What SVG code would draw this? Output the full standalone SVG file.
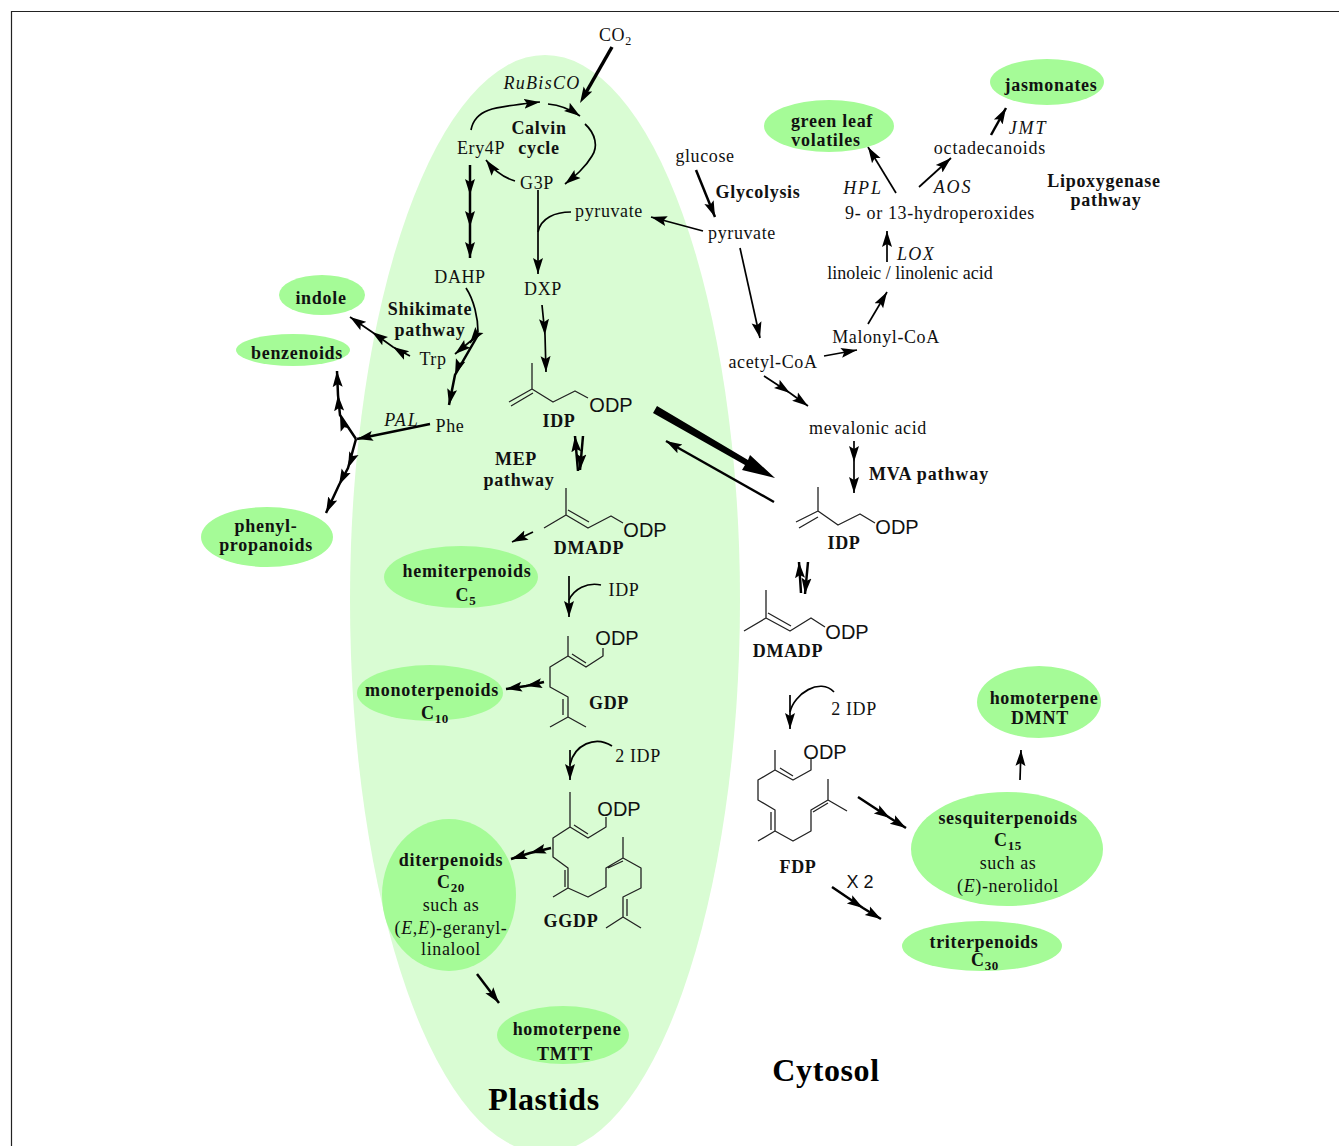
<svg xmlns="http://www.w3.org/2000/svg" width="1339" height="1146" viewBox="0 0 1339 1146">
<style>
text{font-family:"Liberation Serif","Times New Roman",serif;font-size:18px;fill:#111;text-anchor:middle;letter-spacing:.6px}
.b{font-weight:bold;letter-spacing:.7px}
.i{font-style:italic;letter-spacing:1.9px}
.s{font-family:"Liberation Sans",Arial,sans-serif;font-size:20px;letter-spacing:0}
.big{font-weight:bold;font-size:32px;letter-spacing:.6px;fill:#000}
.e{fill:#a5fb97}
.m{fill:none;stroke:#222;stroke-width:1.3;stroke-linejoin:round}
.c{fill:none;stroke:#000;stroke-width:1.7}
.h{fill:none;stroke:#000;stroke-width:2.5}
.ah{marker-end:url(#a)}
.am{marker-mid:url(#a);marker-end:url(#a)}
</style>
<defs>
<marker id="a" markerUnits="userSpaceOnUse" markerWidth="17" markerHeight="12" refX="16" refY="6" orient="auto" viewBox="0 0 17 12"><path d="M0,1 L16,6 L0,11 L3,6 Z" fill="#000"/></marker>
<marker id="a2" markerUnits="userSpaceOnUse" markerWidth="17" markerHeight="12" refX="8" refY="6" orient="auto" viewBox="0 0 17 12"><path d="M0,1 L16,6 L0,11 L3,6 Z" fill="#000"/></marker>
</defs>
<rect width="1339" height="1146" fill="#fff"/>
<path d="M1339,11.500H11.500V1146" fill="none" stroke="#222" stroke-width="1.2"/>
<path id="plastid" d="M350,600A195,545 0 0 1 740,600A195,553 0 0 1 350,600Z" fill="#d9fcd3"/>

<g id="connectors">
<path class="h" style="stroke-width:3.500" d="M612,47L584,96" marker-end="url(#a2)"/>
<path class="c ah" d="M471,130C475,108 495,107 540,102"/>
<path class="c ah" d="M548,104C560,105 570,109 580,116"/>
<path class="c ah" d="M585,124C596,134 598,147 592,156C585,168 575,176 565,184"/>
<path class="c ah" d="M515,181C505,178 495,172 486,160"/>
<path class="h am" d="M470,165V195V227V258"/>
<path class="c ah" d="M538,190V274"/>
<path class="c" d="M538,232C541,218 555,212 571,212"/>
<path class="c am" d="M542,305L545,335L546,372"/>
<path class="c" d="M466,288C474,300 478,318 478,332"/>
<path class="c ah" d="M478,332L470,343"/>
<path class="c ah" d="M478,335L455,354"/>
<path class="h am" d="M478,335L455,375L449,405"/>
<path class="c am" d="M410,356L393,347L372,332L350,317"/>
<path class="h ah" d="M430,424L357,439"/>
<path class="h am" d="M356,439L340,415L338,395L337,371"/>
<path class="h am" d="M356,439L348,468L339,485L326,513"/>
<path class="h ah" d="M578,471L575,436"/>
<path class="h ah" d="M583,436L580,470"/>
<path class="c ah" d="M533,532L512,542"/>
<path class="c ah" d="M569,576V617"/>
<path class="c" d="M569,600C574,589 587,582 601,585"/>
<path class="h am" d="M544,682L526,686L506,689"/>
<path class="c ah" d="M570,750V780"/>
<path class="c" d="M570,765C574,745 595,735 612,746"/>
<path class="h am" d="M551,848L530,853L511,859"/>
<path class="h ah" d="M477,974L499,1003"/>
<path d="M657,406L748,460L750,455L775,478L742,470L745,465L653,413Z" fill="#000"/>
<path class="c ah" style="stroke-width:2.400" d="M774,502L666,441"/>
<path class="h ah" d="M696,170L715,217"/>
<path class="c ah" d="M703,231L651,217"/>
<path class="c ah" d="M740,248L760,338"/>
<path class="c ah" d="M824,356L857,350"/>
<path class="c am" d="M764,376L790,393L808,406"/>
<path class="c ah" d="M868,324L887,292"/>
<path class="c ah" d="M887,262V231"/>
<path class="c ah" d="M896,193L868,147"/>
<path class="c ah" d="M919,187L951,158"/>
<path class="h ah" d="M991,135L1006,108"/>
<path class="c am" d="M854,441V462V493"/>
<path class="h ah" d="M801,593L799,562"/>
<path class="h ah" d="M808,562L805,594"/>
<path class="c ah" d="M790,695V729"/>
<path class="c" d="M790,712C794,694 820,677 834,692"/>
<path class="h am" d="M858,797L890,818L906,828"/>
<path class="h am" d="M832,887L863,908L881,919"/>
<path class="c ah" d="M1020,780L1021,750"/>
</g>

<g id="calvin"><text class="b" x="539" y="134">Calvin</text><text class="b" x="539" y="154">cycle</text></g>
<g id="co2"><text x="599" y="41" style="text-anchor:start">CO<tspan dy="4" style="font-size:12px">2</tspan></text></g>
<g id="rubisco"><text class="i" x="542" y="89" style="letter-spacing:1.3px">RuBisCO</text></g>
<g id="ery4p"><text x="481" y="154">Ery4P</text></g>
<g id="g3p"><text x="537" y="189">G3P</text></g>
<g id="pyr1"><text x="609" y="217">pyruvate</text></g>
<g id="dahp"><text x="460" y="283">DAHP</text></g>
<g id="dxp"><text x="543" y="295">DXP</text></g>
<g id="shikimate"><text class="b" x="430" y="315">Shikimate</text><text class="b" x="430" y="336">pathway</text></g>
<g id="trp"><text x="433" y="365">Trp</text></g>
<g id="phe"><text x="450" y="432">Phe</text></g>
<g id="pal"><text class="i" x="402" y="426">PAL</text></g>

<g id="indole"><ellipse class="e" cx="322" cy="295" rx="43" ry="20"/><text class="b" x="321" y="304">indole</text></g>
<g id="benzenoids"><ellipse class="e" cx="293" cy="350" rx="57" ry="16"/><text class="b" x="297" y="359">benzenoids</text></g>
<g id="phenylpropanoids"><ellipse class="e" cx="267" cy="537" rx="66" ry="30"/><text class="b" x="266" y="532">phenyl-</text><text class="b" x="266" y="551">propanoids</text></g>

<g id="idp1"><path class="m" d="M509,402L532,389L553,402L575,391L588,398M511,406L533,393M532,389V363"/><text class="s" x="611" y="412">ODP</text><text class="b" x="559" y="427">IDP</text></g>
<g id="mep"><text class="b" x="516" y="465">MEP</text><text class="b" x="519" y="486">pathway</text></g>
<g id="dmadp1"><path class="m" d="M544,528L566,515L588,528L611,516L623,523M568,510L589,522M566,515V488"/><text class="s" x="645" y="537">ODP</text><text class="b" x="589" y="554">DMADP</text></g>
<g id="hemi"><ellipse class="e" cx="461" cy="577" rx="77" ry="31"/><text class="b" x="467" y="577">hemiterpenoids</text><text class="b" x="466" y="601">C<tspan dy="4" style="font-size:13px">5</tspan></text></g>
<g id="idplabel"><text x="624" y="596">IDP</text></g>
<g id="mono"><ellipse class="e" cx="430" cy="693" rx="73" ry="28"/><text class="b" x="432" y="696">monoterpenoids</text><text class="b" x="435" y="719">C<tspan dy="4" style="font-size:13px">10</tspan></text></g>
<g id="gdp"><path class="m" d="M568,636V656L586,667L603,656V648M572,654L586,663M568,656L550,667V687L568,697V717M563,699V715M568,717L550,727M568,717L586,727"/><text class="s" x="617" y="645">ODP</text><text class="b" x="609" y="709">GDP</text></g>
<g id="twoidp"><text x="638" y="762">2 IDP</text></g>
<g id="ggdp"><path class="m" d="M570,792V827L588,838L606,827V817M574,825L588,834M570,827L553,838V857L568,868V888L553,897M565,870V887M568,888L588,897L606,887V868L623,858L641,868V888L623,897V917M627,899V916M623,917L606,928M623,917L641,928M608,868L623,861M623,858V837"/><text class="s" x="619" y="816">ODP</text><text class="b" x="571" y="927">GGDP</text></g>
<g id="di"><ellipse class="e" cx="449" cy="895" rx="67" ry="76"/><text class="b" x="451" y="866">diterpenoids</text><text class="b" x="451" y="888">C<tspan dy="4" style="font-size:13px">20</tspan></text><text x="451" y="911">such as</text><text x="451" y="934">(<tspan font-style="italic">E</tspan>,<tspan font-style="italic">E</tspan>)-geranyl-</text><text x="451" y="955">linalool</text></g>
<g id="tmtt"><ellipse class="e" cx="563" cy="1035" rx="66" ry="29"/><text class="b" x="567" y="1035">homoterpene</text><text class="b" x="565" y="1060">TMTT</text></g>
<g id="plastids"><text class="big" x="544" y="1110">Plastids</text></g>

<g id="glucose"><text x="705" y="162">glucose</text></g>
<g id="glycolysis"><text class="b" x="758" y="198">Glycolysis</text></g>
<g id="pyr2"><text x="742" y="239">pyruvate</text></g>
<g id="acetyl"><text x="773" y="368">acetyl-CoA</text></g>
<g id="malonyl"><text x="886" y="343">Malonyl-CoA</text></g>
<g id="linoleic"><text x="910" y="279" style="letter-spacing:0">linoleic / linolenic acid</text></g>
<g id="lox"><text class="i" x="916" y="260" style="letter-spacing:1.3px">LOX</text></g>
<g id="hydro"><text x="940" y="219" style="letter-spacing:.65px">9- or 13-hydroperoxides</text></g>
<g id="hpl"><text class="i" x="863" y="194">HPL</text></g>
<g id="aos"><text class="i" x="953" y="193">AOS</text></g>
<g id="octa"><text x="990" y="154" style="letter-spacing:.8px">octadecanoids</text></g>
<g id="jmt"><text class="i" x="1028" y="134">JMT</text></g>
<g id="glv"><ellipse class="e" cx="829" cy="126" rx="65" ry="26"/><text class="b" x="832" y="127">green leaf</text><text class="b" x="826" y="146">volatiles</text></g>
<g id="jas"><ellipse class="e" cx="1047" cy="82" rx="57" ry="23"/><text class="b" x="1051" y="91">jasmonates</text></g>
<g id="lox-path"><text class="b" x="1104" y="187">Lipoxygenase</text><text class="b" x="1106" y="206">pathway</text></g>
<g id="meva"><text x="868" y="434">mevalonic acid</text></g>
<g id="mva"><text class="b" x="929" y="480" style="letter-spacing:.9px">MVA pathway</text></g>
<g id="idp2"><path class="m" d="M796,522L818,511L838,525L860,514L875,523M799,528L818,517M818,511V487"/><text class="s" x="897" y="534">ODP</text><text class="b" x="844" y="549">IDP</text></g>
<g id="dmadp2"><path class="m" d="M744,631L766,618L790,631L811,618L825,627M768,613L791,626M766,618V590"/><text class="s" x="847" y="639">ODP</text><text class="b" x="788" y="657">DMADP</text></g>
<g id="twoidp2"><text x="854" y="715">2 IDP</text></g>
<g id="fdp"><path class="m" d="M775,750V770L793,780L811,770V758M780,768L793,776M775,770L758,780V800L775,810V831L758,841M771,812V830M775,831L793,841L811,831V810L828,800L847,811M813,812L828,803M828,800V779"/><text class="s" x="825" y="759">ODP</text><text class="b" x="798" y="873">FDP</text></g>
<g id="x2"><text class="s" x="860" y="888" style="font-size:18px">X 2</text></g>
<g id="sesqui"><ellipse class="e" cx="1007" cy="849" rx="96" ry="57"/><text class="b" x="1008" y="824">sesquiterpenoids</text><text class="b" x="1008" y="846">C<tspan dy="4" style="font-size:13px">15</tspan></text><text x="1008" y="869">such as</text><text x="1008" y="892">(<tspan font-style="italic">E</tspan>)-nerolidol</text></g>
<g id="dmnt"><ellipse class="e" cx="1039" cy="702" rx="62" ry="36"/><text class="b" x="1044" y="704">homoterpene</text><text class="b" x="1040" y="724">DMNT</text></g>
<g id="tri"><ellipse class="e" cx="982" cy="946" rx="80" ry="25"/><text class="b" x="984" y="948">triterpenoids</text><text class="b" x="985" y="966">C<tspan dy="4" style="font-size:13px">30</tspan></text></g>
<g id="cytosol"><text class="big" x="826" y="1081">Cytosol</text></g>
</svg>
